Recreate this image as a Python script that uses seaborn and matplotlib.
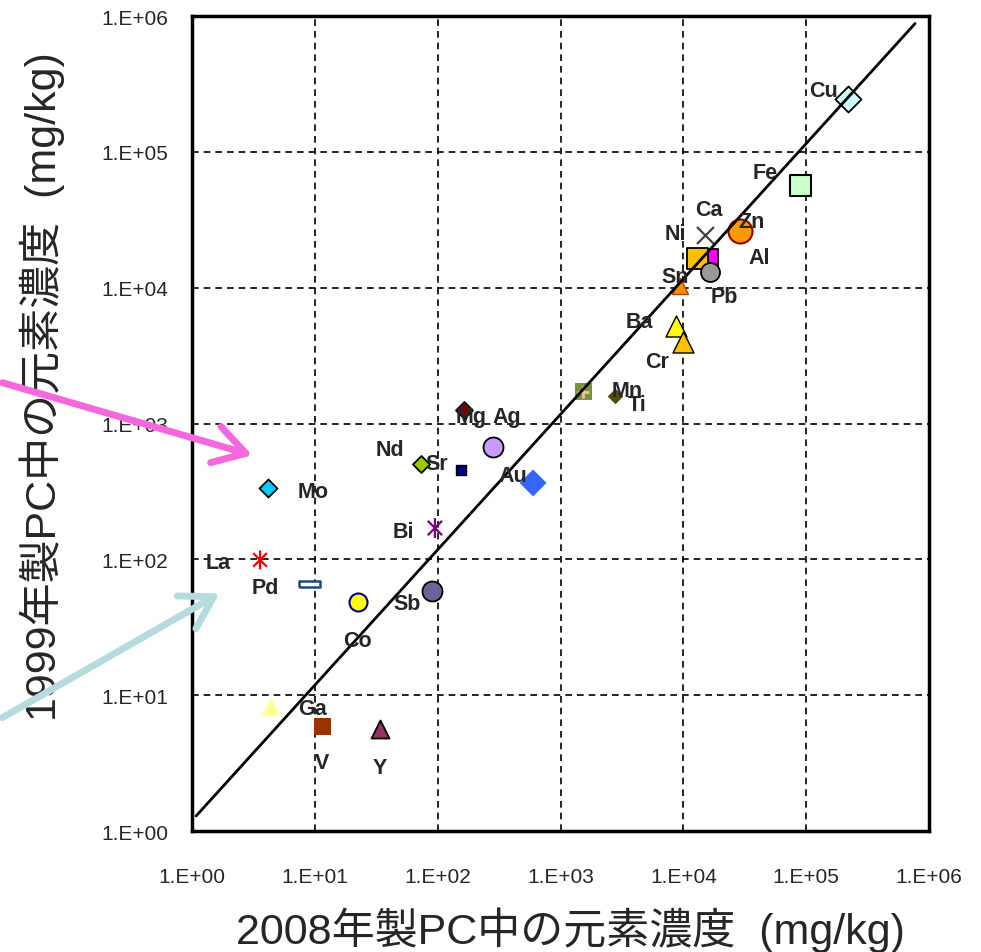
import numpy as np
import matplotlib
matplotlib.use("Agg")
import matplotlib.pyplot as plt
from matplotlib.path import Path
from matplotlib.patches import FancyArrowPatch
from matplotlib.ticker import FixedLocator, FuncFormatter
import seaborn as sns

# Datos: concentracion de elementos (mg/kg)
elements = ['Cu', 'Fe', 'Ca', 'Zn', 'Al', 'Ni', 'Pb', 'Sn', 'Ba', 'Cr',
            'Mn', 'Ti', 'Mg', 'Ag', 'Nd', 'Sr', 'Au', 'Bi', 'Mo', 'La',
            'Pd', 'Co', 'Sb', 'Ga', 'V', 'Y']
conc_2008 = [2.2e5, 8.9e4, 1.5e4, 2.9e4, 1.72e4, 1.3e4, 1.65e4, 9.4e3, 8.7e3, 1.0e4,
             1.53e3, 2.79e3, 164, 283, 73, 155, 598, 95, 4.16, 3.58,
             8.97, 22.5, 90, 4.4, 11.5, 34]
conc_1999 = [2.45e5, 5.7e4, 2.45e4, 2.6e4, 1.66e4, 1.66e4, 1.31e4, 1.03e4, 5.2e3, 4.0e3,
             1.71e3, 1.6e3, 1.26e3, 673, 504, 455, 365, 170, 336, 99,
             66, 48.6, 58.5, 8.2, 5.83, 5.6]
# linea de referencia
line_x = [1.08, 7.7e5]
line_y = [1.29, 8.8e5]
decades = [1e0, 1e1, 1e2, 1e3, 1e4, 1e5, 1e6]

# marcadores especiales
asterisk = Path([(0, -1), (0, 1), (-0.72, -0.72), (0.72, 0.72), (-0.72, 0.72), (0.72, -0.72)],
                [Path.MOVETO, Path.LINETO, Path.MOVETO, Path.LINETO, Path.MOVETO, Path.LINETO])
tall_rect = [(-0.7, -1), (0.7, -1), (0.7, 1), (-0.7, 1), (-0.7, -1)]
wide_rect = [(-1, -0.28), (1, -0.28), (1, 0.28), (-1, 0.28), (-1, -0.28)]

# estilo: marker, tamano (px), relleno, borde, ancho de borde
styles = {
    'Cu': ('D', 26, '#CCFFFF', 'black', 1.3),
    'Fe': ('s', 21, '#CCFFCC', 'black', 1.5),
    'Ca': ('x', 17, '#404040', None, 1.6),
    'Zn': ('o', 24, '#FF9900', '#990000', 1.5),
    'Al': (tall_rect, 18, '#FF00FF', 'black', 1.3),
    'Ni': ('s', 21, '#FFC000', 'black', 1.3),
    'Pb': ('o', 19, '#999999', 'black', 1.3),
    'Sn': ('^', 16, '#FF8C00', '#994C00', 1.0),
    'Ba': ('^', 21, '#FFFF00', 'black', 1.0),
    'Cr': ('^', 21, '#FFC000', 'black', 1.0),
    'Mn': ('s', 17, '#77933C', 'none', 0),
    'Ti': ('D', 14, '#4F4F10', '#4F4F10', 0.8),
    'Mg': ('D', 17, '#800000', 'black', 1.3),
    'Ag': ('o', 20, '#CC99FF', 'black', 1.3),
    'Nd': ('D', 17, '#99CC00', 'black', 1.3),
    'Sr': ('s', 10, '#000080', 'black', 1.0),
    'Au': ('D', 27, '#3366FF', 'none', 0),
    'Bi': (asterisk, 20, 'none', '#800080', 1.6),
    'Mo': ('D', 18, '#00CCFF', 'black', 1.3),
    'La': (asterisk, 19, 'none', '#FF0000', 1.6),
    'Pd': (wide_rect, 21, 'white', '#1F497D', 1.8),
    'Co': ('o', 18, '#FFFF00', '#000080', 1.5),
    'Sb': ('o', 20, '#666699', 'black', 1.3),
    'Ga': ('^', 19, '#FFFF99', 'none', 0),
    'V': ('s', 17, '#993300', 'none', 0),
    'Y': ('^', 18, '#993366', 'black', 1.3),
}

# posicion de etiquetas (offset en pixeles)
label_offset = {
    'Cu': (-25, 8), 'Fe': (-35, 12), 'Ca': (4, 25), 'Zn': (11, 10), 'Al': (47, 0),
    'Ni': (-22, 24), 'Pb': (14, -25), 'Sn': (-5, 9), 'Ba': (-37, 5), 'Cr': (-26, -20),
    'Mn': (44, 1), 'Ti': (22, -9), 'Mg': (7, -7), 'Ag': (14, 30), 'Nd': (-31, 14),
    'Sr': (-24, 6), 'Au': (-20, 7), 'Bi': (-32, -3), 'Mo': (45, -4), 'La': (-42, -3),
    'Pd': (-44, -4), 'Co': (-1, -39), 'Sb': (-25, -13), 'Ga': (41, -2), 'V': (0, -36),
    'Y': (0, -38),
}

sns.set_style('white')
plt.rcParams['font.family'] = ['Liberation Sans', 'Noto Sans CJK JP', 'DejaVu Sans']

fig = plt.figure(figsize=(9.81, 9.53), dpi=100)
ax = fig.add_axes([192/981, 1 - 832/953, 737/981, 815/953])

px2pt = 72 / 100
for el, xv, yv in zip(elements, conc_2008, conc_1999):
    m, size, fc, ec, lw = styles[el]
    side = size * px2pt
    if m == 'D':
        side = side / np.sqrt(2)
    kws = dict(marker=m, s=side**2, linewidth=lw, ax=ax, zorder=2, legend=False)
    if ec is None:
        sns.scatterplot(x=[xv], y=[yv], color=fc, **kws)
    else:
        sns.scatterplot(x=[xv], y=[yv], color=fc, edgecolor=ec, **kws)
    if el == 'Mn':
        sns.scatterplot(x=[xv], y=[yv], marker='+', s=(12 * px2pt)**2, color='#FAC090',
                        linewidth=2, ax=ax, zorder=2, legend=False)

sns.lineplot(x=line_x, y=line_y, color='black', linewidth=2, ax=ax, zorder=3)

for el, xv, yv in zip(elements, conc_2008, conc_1999):
    ax.annotate(el, (xv, yv), xytext=label_offset[el], textcoords='offset pixels',
                ha='center', va='center', fontsize=15.5, fontweight='bold', zorder=4)

ax.set_xscale('log')
ax.set_yscale('log')
ax.set_xlim(1, 1e6)
ax.set_ylim(1, 1e6)

fmt = FuncFormatter(lambda v, p: f"1.E+{int(round(np.log10(v))):02d}")
for axis in (ax.xaxis, ax.yaxis):
    axis.set_major_locator(FixedLocator(decades))
    axis.set_major_formatter(fmt)
    axis.set_minor_locator(FixedLocator([]))
ax.tick_params(direction='in', length=5, width=1.5, labelsize=15)
ax.tick_params(axis='x', pad=26)
ax.tick_params(axis='y', pad=17)

ax.grid(True, which='major', color='black', linestyle=(0, (4, 3)), linewidth=1.2)
for sp in ax.spines.values():
    sp.set_visible(True)
    sp.set_color('black')
    sp.set_linewidth(2.5)

lab_font = ['Liberation Sans', 'Noto Sans CJK JP']
ax.set_xlabel('2008年製PC中の元素濃度  (mg/kg)', fontsize=31, family=lab_font)
ax.set_ylabel('1999年製PC中の元素濃度  (mg/kg)', fontsize=31, family=lab_font)
ax.xaxis.set_label_coords(0.513, -0.093)
ax.yaxis.set_label_coords(-0.172, 0.546)

# flechas
fig.patches.append(FancyArrowPatch(
    (0, 1 - 383/953), (255/981, 1 - 457/953), transform=fig.transFigure,
    arrowstyle='->, head_length=0.75, head_width=0.45', mutation_scale=30,
    color='#F468DE', linewidth=5, zorder=10))
fig.patches.append(FancyArrowPatch(
    (0, 1 - 720/953), (222/981, 1 - 593/953), transform=fig.transFigure,
    arrowstyle='->, head_length=0.75, head_width=0.45', mutation_scale=30,
    color='#B4DCDF', linewidth=5, zorder=10))

fig.savefig('out.png', dpi=100)
